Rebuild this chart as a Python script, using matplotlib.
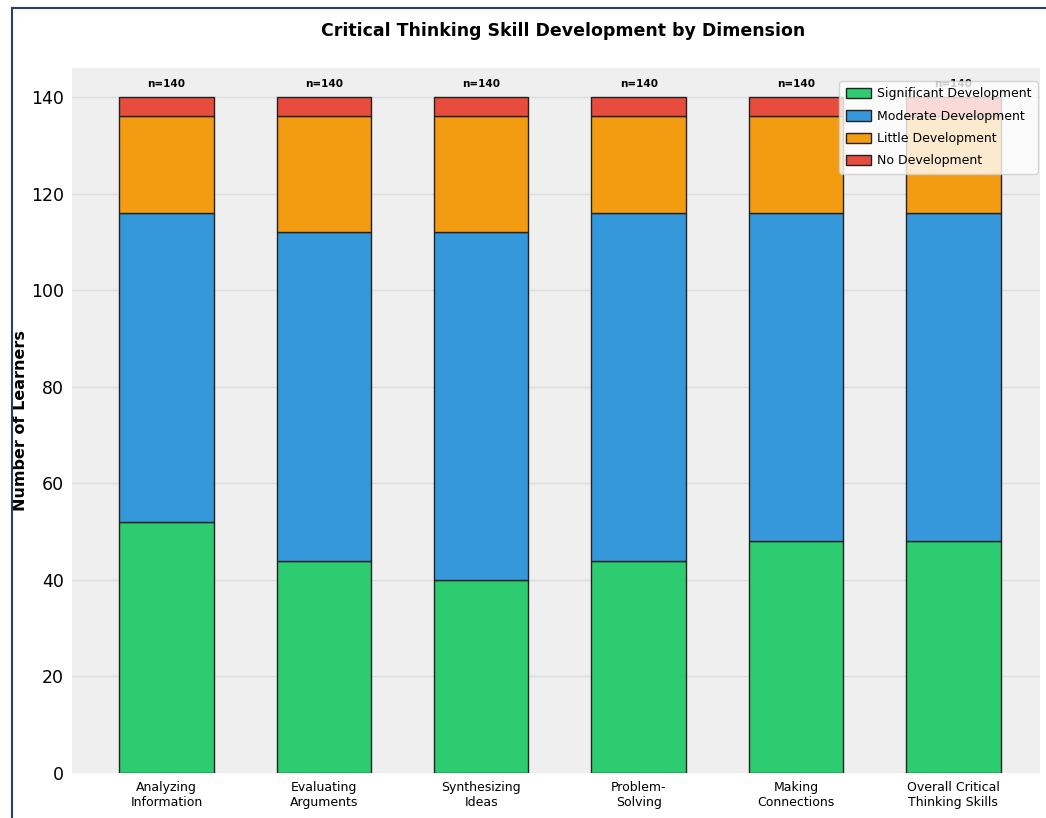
import numpy as np
import matplotlib
matplotlib.use("Agg")
import matplotlib.pyplot as plt
from matplotlib.lines import Line2D

# data
dimensions = ["Analyzing\nInformation", "Evaluating\nArguments", "Synthesizing\nIdeas",
              "Problem-\nSolving", "Making\nConnections", "Overall Critical\nThinking Skills"]
significant = [52, 44, 40, 44, 48, 48]
moderate = [64, 68, 72, 72, 68, 68]
little = [20, 24, 24, 20, 20, 20]
none_dev = [4, 4, 4, 4, 4, 4]
series_labels = ["Significant Development", "Moderate Development", "Little Development", "No Development"]
colors = ["#2ecc71", "#3498db", "#f39c12", "#e74c3c"]

fig = plt.figure(figsize=(10.46, 8.18), dpi=100)
ax = fig.add_axes([72 / 1046, 1 - 773 / 818, (1040 - 72) / 1046, (773 - 68) / 818])
ax.set_facecolor("#efefef")

x = np.arange(len(dimensions))
bottom = np.zeros(len(dimensions))
for vals, lab, col in zip([significant, moderate, little, none_dev], series_labels, colors):
    ax.bar(x, vals, width=0.6, bottom=bottom, color=col, edgecolor="#222222",
           linewidth=1.0, label=lab, zorder=3)
    bottom += np.array(vals)

for xi, tot in zip(x, bottom):
    ax.text(xi, tot + 1.6, "n=%d" % tot, ha="center", va="bottom", fontsize=7.5,
            fontweight="bold", zorder=4)

ax.set_xlim(-0.6, 5.55)
ax.set_ylim(0, 146)
ax.set_yticks(np.arange(0, 141, 20))
ax.set_xticks(x)
ax.set_xticklabels(dimensions, fontsize=9)
for t in ax.get_yticklabels():
    t.set_fontsize(12.5)
ax.tick_params(length=0, pad=6)
ax.grid(axis="y", color="#dcdcdc", linewidth=1, zorder=0)
for s in ax.spines.values():
    s.set_visible(False)

ax.set_ylabel("Number of Learners", fontsize=11.5, fontweight="bold")
ax.yaxis.set_label_coords(-44 / 968, 0.5)
fig.text(0.538, 1 - 31 / 818, "Critical Thinking Skill Development by Dimension",
         ha="center", va="center", fontsize=12.5, fontweight="bold")

leg = ax.legend(loc="upper right", prop={"size": 9}, frameon=True,
                borderpad=0.5, handlelength=2.0, handleheight=0.9, labelspacing=0.75,
                handletextpad=0.5, borderaxespad=0.2, bbox_to_anchor=(1.0, 0.985))
leg.get_frame().set_facecolor("white")
leg.get_frame().set_alpha(0.8)
leg.get_frame().set_edgecolor("#cccccc")

# frame of the screenshot
fig.add_artist(Line2D([12 / 1046, 12 / 1046], [0, 1 - 8 / 818], color="#2d3e66", linewidth=1.5))
fig.add_artist(Line2D([12 / 1046, 1], [1 - 8 / 818, 1 - 8 / 818], color="#2d3e66", linewidth=1.5))

fig.savefig("out.png", dpi=100)
